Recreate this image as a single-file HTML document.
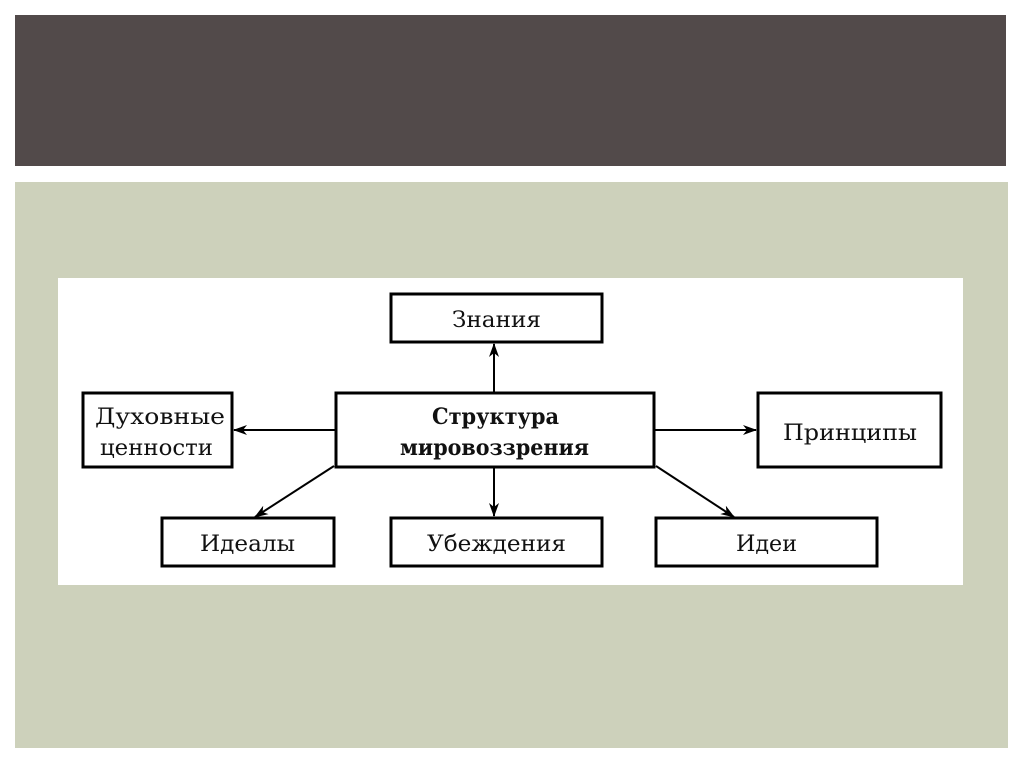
<!DOCTYPE html>
<html><head><meta charset="utf-8"><style>
html,body{margin:0;padding:0;background:#fff;width:1024px;height:767px;overflow:hidden}
</style></head><body>
<svg width="1024" height="767" xmlns="http://www.w3.org/2000/svg" style="position:absolute;left:0;top:0">
<defs><marker id="a" markerWidth="14" markerHeight="10" refX="13" refY="5" orient="auto" markerUnits="userSpaceOnUse"><path d="M0,0 L14,5 L0,10 L4,5 Z" fill="#000"/></marker></defs>
<rect x="15" y="15" width="991" height="151" fill="#524a4a"/>
<rect x="15" y="182" width="993" height="566" fill="#cdd1bb"/>
<rect x="58" y="278" width="905" height="307" fill="#fff"/>
<g fill="#fff" stroke="#000" stroke-width="3">
<rect x="391" y="294" width="211" height="48"/>
<rect x="83" y="393" width="149" height="74"/>
<rect x="336" y="393" width="318" height="74"/>
<rect x="758" y="393" width="183" height="74"/>
<rect x="162" y="518" width="172" height="48"/>
<rect x="391" y="518" width="211" height="48"/>
<rect x="656" y="518" width="221" height="48"/>
</g>
<g stroke="#000" stroke-width="2" marker-end="url(#a)">
<line x1="494" y1="392" x2="494" y2="344"/>
<line x1="335" y1="430" x2="234" y2="430"/>
<line x1="655" y1="430" x2="756" y2="430"/>
<line x1="494" y1="468" x2="494" y2="516"/>
<line x1="334" y1="466" x2="255" y2="517"/>
<line x1="656" y1="466" x2="734" y2="517"/>
</g>
<g font-family="DejaVu Serif, serif" font-size="22" fill="#111">
<text x="452" y="327" textLength="89" lengthAdjust="spacingAndGlyphs">Знания</text>
<text x="95" y="424" textLength="130" lengthAdjust="spacingAndGlyphs">Духовные</text>
<text x="100" y="455" textLength="113" lengthAdjust="spacingAndGlyphs">ценности</text>
<text x="432" y="424" font-weight="bold" textLength="127" lengthAdjust="spacingAndGlyphs">Структура</text>
<text x="400" y="455" font-weight="bold" textLength="189" lengthAdjust="spacingAndGlyphs">мировоззрения</text>
<text x="783" y="440" textLength="134" lengthAdjust="spacingAndGlyphs">Принципы</text>
<text x="200" y="551" textLength="95" lengthAdjust="spacingAndGlyphs">Идеалы</text>
<text x="427" y="551" textLength="139" lengthAdjust="spacingAndGlyphs">Убеждения</text>
<text x="736" y="551" textLength="61" lengthAdjust="spacingAndGlyphs">Идеи</text>
</g>
</svg>
</body></html>
